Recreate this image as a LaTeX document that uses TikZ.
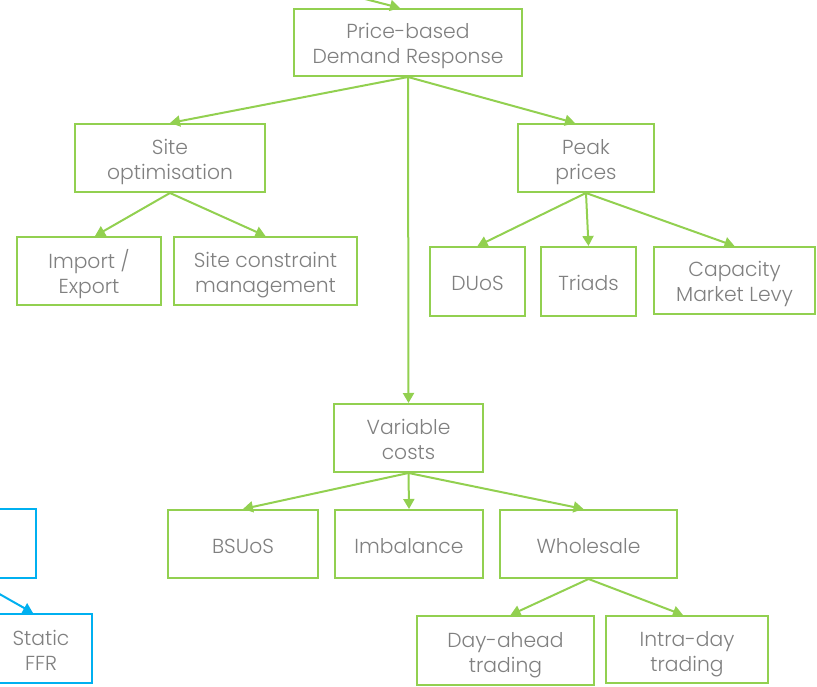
\documentclass[tikz,border=0pt]{standalone}
\usepackage{fontspec}
\setmainfont{Poppins}[UprightFont=* Light]
\usetikzlibrary{arrows.meta}
\definecolor{gr}{HTML}{92D050}
\definecolor{cy}{HTML}{00B0F0}
\definecolor{tx}{HTML}{808080}
\newcommand\boxtext[1]{\raisebox{-4pt}[\height][\depth]{\begin{tabular}{@{}c@{}}#1\end{tabular}}}
\tikzset{
  gbox/.style={draw=gr, line width=2pt, fill=white, text=tx, inner sep=2pt, font=\fontsize{20.3}{25}\selectfont},
  cbox/.style={gbox, draw=cy},
  garrow/.style={draw=gr, line width=2pt, -{Triangle[length=10pt,width=11pt]}},
  carrow/.style={garrow, draw=cy, fill=cy},
}
\begin{document}
\begin{tikzpicture}[x=1pt,y=-1pt]
\useasboundingbox (0,0) rectangle (817,687);
\clip (0,0) rectangle (817,687);
% green boxes: center, width, height
\node[gbox, minimum width=228, minimum height=67] (price) at (408,42.5) {\boxtext{Price-based\\Demand Response}};
\node[gbox, minimum width=190, minimum height=68] (site) at (170,158) {\boxtext{Site\\optimisation}};
\node[gbox, minimum width=136, minimum height=68] (peak) at (586,158) {\boxtext{Peak\\prices}};
\node[gbox, minimum width=144, minimum height=68] (imp) at (89,271) {\boxtext{Import /\\Export}};
\node[gbox, minimum width=183, minimum height=68] (scm) at (265.5,271) {\boxtext{Site constraint\\management}};
\node[gbox, minimum width=95, minimum height=69] (duos) at (477.5,281.5) {\boxtext{DUoS}};
\node[gbox, minimum width=95, minimum height=69] (triads) at (588.5,281.5) {\boxtext{Triads}};
\node[gbox, minimum width=161, minimum height=67] (cml) at (734.5,280.5) {\boxtext{Capacity\\Market Levy}};
\node[gbox, minimum width=149, minimum height=68] (var) at (408.5,438) {\boxtext{Variable\\costs}};
\node[gbox, minimum width=150, minimum height=68] (bsuos) at (243,544) {\boxtext{BSUoS}};
\node[gbox, minimum width=148, minimum height=68] (imb) at (409,544) {\boxtext{Imbalance}};
\node[gbox, minimum width=177, minimum height=68] (whole) at (588.5,544) {\boxtext{Wholesale}};
\node[gbox, minimum width=177, minimum height=69] (day) at (505.5,650.5) {\boxtext{Day-ahead\\trading}};
\node[gbox, minimum width=162, minimum height=67] (intra) at (687,649.5) {\boxtext{Intra-day\\trading}};
% cyan boxes (partly outside)
\node[cbox, minimum width=120, minimum height=69] (cyantop) at (-24,543.5) {};
\node[cbox, minimum width=102, minimum height=69] (ffr) at (41,648.5) {\boxtext{Static\\FFR}};
% connectors
\coordinate (topin) at (330,-10);
\coordinate (cyin) at (-20,583);
\draw[garrow] (topin) -- ([xshift=-8pt]price.north);
\draw[garrow] (price.south) -- (site.north);
\draw[garrow] (price.south) -- ([xshift=-11pt]peak.north);
\draw[garrow] (price.south) -- (var.north);
\draw[garrow] (site.south) -- ([xshift=6pt]imp.north);
\draw[garrow] (site.south) -- (scm.north);
\draw[garrow] (peak.south) -- (duos.north);
\draw[garrow] (peak.south) -- (triads.north);
\draw[garrow] (peak.south) -- (cml.north);
\draw[garrow] (var.south) -- (bsuos.north);
\draw[garrow] (var.south) -- (imb.north);
\draw[garrow] (var.south) -- ([xshift=-5pt]whole.north);
\draw[garrow] (whole.south) -- ([xshift=5pt]day.north);
\draw[garrow] (whole.south) -- ([xshift=-4pt]intra.north);
\draw[carrow] (cyin) -- ([xshift=-8pt]ffr.north);
\end{tikzpicture}
\end{document}
